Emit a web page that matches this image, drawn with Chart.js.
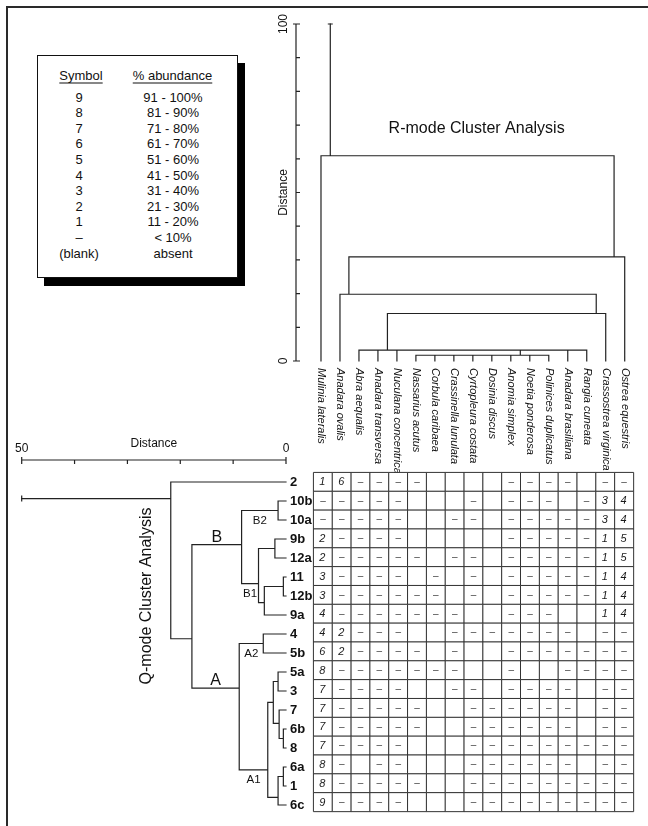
<!DOCTYPE html>
<html>
<head>
<meta charset="utf-8">
<title>R-mode and Q-mode cluster analysis</title>
<script src="https://cdn.jsdelivr.net/npm/chart.js@4.4.1/dist/chart.umd.min.js"></script>
<style>
  html, body { margin: 0; padding: 0; background: #fff; }
  #sheet { position: relative; width: 648px; height: 826px; overflow: hidden; background: #fff;
           font-family: "Liberation Sans", Arial, Helvetica, sans-serif; color: #111; }
  #sheet canvas { position: absolute; left: 0; top: 0; }
  .rule-top { position: absolute; left: 6px; top: 6px; width: 642px; height: 2px; background: #2a2a2a; }
  .rule-left { position: absolute; left: 6px; top: 6px; width: 2px; height: 820px; background: #2a2a2a; }
  #key { position: absolute; left: 37px; top: 55px; width: 201px; height: 223px; box-sizing: border-box;
         border: 1.5px solid #111; background: #fff; box-shadow: 7px 8px 0 #000; font-size: 13px; }
  #key div { position: absolute; white-space: nowrap; transform: translate(-50%, -50%); line-height: 15px; }
  #key .head { text-decoration: underline; text-underline-offset: 3px; text-decoration-thickness: 1px; }
</style>
</head>
<body>
<div id="sheet">
  <div class="rule-top"></div>
  <div class="rule-left"></div>
  <div id="key"></div>
  <canvas id="rmode" width="648" height="826"></canvas>
  <canvas id="qmode" width="648" height="826"></canvas>
  <canvas id="cells" width="648" height="826"></canvas>
</div>
<script>
// ---------------- data ----------------
const species = ["Mulinia lateralis", "Anadara ovalis", "Abra aequalis", "Anadara transversa",
  "Nuculana concentrica", "Nassarius acutus", "Corbula caribaea", "Crassinella lunulata",
  "Cyrtopleura costata", "Dosinia discus", "Anomia simplex", "Noetia ponderosa",
  "Polinices duplicatus", "Anadara brasiliana", "Rangia cuneata", "Crassostrea virginica",
  "Ostrea equestris"];

const sites = ["2", "10b", "10a", "9b", "12a", "11", "12b", "9a", "4", "5b",
  "5a", "3", "7", "6b", "8", "6a", "1", "6c"];

// abundance symbol per site (row) and species (column): digit, "-" under 10 %, "." absent
const cellCodes = [
  "16----....----.--",
  "-----...-.---.-34",
  "-----..--.-----34",
  "2----.....-----15",
  "2-----.--.-----15",
  "3----.-.-.-----14",
  "3------.-.-----14",
  "4-------..---..14",
  "42---..-------.--",
  "62----.-..-------",
  "8-------..-..----",
  "7----..--.----.--",
  "7-----..------.--",
  "7-----..------.--",
  "7----...---------",
  "8-.--...------.--",
  "8-----..---------",
  "9----...---------"
];

// R-mode (species) merges: members are species indices or "#k" for merge k
const rMembers = [[5, 6, 7, 8, 9, 10, 11, 12], [2, 3, 4, "#0", 13, 14], ["#1", 15], [1, "#2"], ["#3", 16], [0, "#4"]];
const rHeights = [1.7, 3.2, 14.1, 19.8, 30.9, 60.9];
const rJoinAt = [10.5, 3.5, 14.5, 1.47, 15.44, 0.49];   // position (species units) of each link
const rTop = 100;

// Q-mode (site) merges: members are site labels or "#k" for merge k
const qMembers = [["10b", "10a"], ["9b", "12a"], ["11", "12b"], ["#2", "9a"], ["#1", "#3"],
  ["#0", "#4"], ["4", "5b"], ["5a", "3"], ["6b", "8"], ["7", "#8"], ["#7", "#9"],
  ["6a", "1"], ["#11", "6c"], ["#10", "#12"], ["#6", "#13"], ["#5", "#14"], ["2", "#15"]];
const qHeights = [1.5, 2.1, 0.5, 4.1, 5.2, 8.4, 4.3, 1.5, 0.5, 1.3, 2.4, 0.5, 1.5, 3.45, 8.85, 17.8, 21.8];
const qJoinAt = [1.5, 3.5, 5.5, 6.35, 5.35, 3.3, 8.5, 10.5, 13.5, 12.7, 11.6, 15.5, 16.6, 15.15, 10.85, 8.25, 0.87];
const qTop = 50;

const groupNames = ["B2", "B1", "B", "A2", "A1", "A"];
const groupMerges = [0, 4, 5, 6, 13, 14];

const keySymbols = ["9", "8", "7", "6", "5", "4", "3", "2", "1", "–", "(blank)"];
const keyRanges = ["91 - 100%", "81 - 90%", "71 - 80%", "61 - 70%", "51 - 60%", "41 - 50%",
  "31 - 40%", "21 - 30%", "11 - 20%", "< 10%", "absent"];

// ---------------- key box ----------------
(function buildKey() {
  const key = document.getElementById('key');
  const add = (text, cx, cy, cls) => {
    const d = document.createElement('div');
    d.textContent = text;
    d.style.left = cx + 'px';
    d.style.top = cy + 'px';
    if (cls) d.className = cls;
    key.appendChild(d);
  };
  add("Symbol", 43, 18.5, 'head');
  add("% abundance", 134.5, 18.5, 'head');
  keySymbols.forEach((s, k) => add(s, 41, 40.5 + 15.6 * k));
  keyRanges.forEach((s, k) => add(s, 135, 40.5 + 15.6 * k));
})();

// ---------------- helpers ----------------
const FONT = '"Liberation Sans", Arial, Helvetica, sans-serif';
const INK = '#222';

// polyline points for a dendrogram; gaps (null) separate the pieces
function dendroSegments(members, heights, joinAt, leafPos, vertical) {
  const pts = [];
  const pt = (h, p) => vertical ? { x: p, y: h } : { x: h, y: p };
  const gap = () => pts.push({ x: null, y: null });
  const ref = m => (typeof m === 'string' && m[0] === '#')
    ? { h: heights[+m.slice(1)], p: joinAt[+m.slice(1)] }
    : { h: 0, p: leafPos(m) };
  members.forEach((kids, k) => {
    const H = heights[k];
    const cs = kids.map(ref);
    cs.forEach(c => { pts.push(pt(c.h, c.p), pt(H, c.p)); gap(); });
    const ps = cs.map(c => c.p);
    pts.push(pt(H, Math.min(...ps)), pt(H, Math.max(...ps)));
    gap();
  });
  return pts;
}

function lineSet(points) {
  return {
    data: points, showLine: true, spanGaps: false, pointRadius: 0, pointHoverRadius: 0,
    borderColor: INK, borderWidth: 1.2, borderCapStyle: 'square', clip: false
  };
}

const baseOptions = (padding, xs, ys) => ({
  responsive: false, animation: false, events: [],
  layout: { padding },
  scales: { x: Object.assign({ type: 'linear', display: false }, xs), y: Object.assign({ type: 'linear', display: false }, ys) },
  plugins: { legend: { display: false }, tooltip: { enabled: false }, title: { display: false } }
});

function rotatedText(ctx, text, x, y, angle, font, align) {
  ctx.save();
  ctx.translate(x, y);
  ctx.rotate(angle);
  ctx.font = font;
  ctx.textAlign = align || 'center';
  ctx.textBaseline = 'middle';
  ctx.fillText(text, 0, 0);
  ctx.restore();
}

// ---------------- R-mode dendrogram ----------------
const rLast = rMembers.length - 1;
const rPoints = dendroSegments(rMembers, rHeights, rJoinAt, m => m, true);
rPoints.push({ x: rJoinAt[rLast], y: rHeights[rLast] }, { x: rJoinAt[rLast], y: rTop });

const rAxis = {
  id: 'rAxis',
  afterDraw(chart) {
    const ctx = chart.ctx, xs = chart.scales.x, ys = chart.scales.y, a = chart.chartArea;
    const ax = a.left - 15.5;
    ctx.save();
    ctx.strokeStyle = INK; ctx.fillStyle = '#111'; ctx.lineWidth = 1.2;
    ctx.beginPath();
    ctx.moveTo(ax, ys.getPixelForValue(0)); ctx.lineTo(ax, ys.getPixelForValue(100));
    for (let v = 0; v <= 100; v += 10) {
      const py = ys.getPixelForValue(v);
      ctx.moveTo(v % 100 === 0 ? ax - 3 : ax, py); ctx.lineTo(ax + 4, py);
    }
    // cap on the stem top
    const sx = xs.getPixelForValue(rJoinAt[rLast]), sy = ys.getPixelForValue(rTop);
    ctx.moveTo(sx - 2.5, sy); ctx.lineTo(sx + 2.5, sy);
    ctx.stroke();
    rotatedText(ctx, "100", ax - 12, ys.getPixelForValue(100), -Math.PI / 2, '12px ' + FONT);
    rotatedText(ctx, "0", ax - 12, ys.getPixelForValue(0), -Math.PI / 2, '12px ' + FONT);
    rotatedText(ctx, "Distance", ax - 12, ys.getPixelForValue(50), -Math.PI / 2, '12px ' + FONT);
    ctx.font = '16px ' + FONT; ctx.textAlign = 'center'; ctx.textBaseline = 'middle';
    ctx.fillText("R-mode Cluster Analysis", xs.getPixelForValue(8.2), ys.getPixelForValue(69));
    species.forEach((s, i) => {
      rotatedText(ctx, s, xs.getPixelForValue(i), ys.getPixelForValue(0) + 7, Math.PI / 2, 'italic 11px ' + FONT, 'left');
    });
    ctx.restore();
  }
};

new Chart(document.getElementById('rmode'), {
  type: 'scatter',
  data: { datasets: [lineSet(rPoints)] },
  options: baseOptions({ left: 311.5, right: 13.8, top: 24, bottom: 826 - 361 },
    { min: -0.5, max: species.length - 0.5 }, { min: 0, max: rTop }),
  plugins: [rAxis]
});

// ---------------- Q-mode dendrogram ----------------
const qLast = qMembers.length - 1;
const qPoints = dendroSegments(qMembers, qHeights, qJoinAt, m => sites.indexOf(m), false);
qPoints.push({ x: qHeights[qLast], y: qJoinAt[qLast] }, { x: qTop, y: qJoinAt[qLast] });

const qAxis = {
  id: 'qAxis',
  afterDraw(chart) {
    const ctx = chart.ctx, xs = chart.scales.x, ys = chart.scales.y, a = chart.chartArea;
    const ay = a.top - 12.5;
    ctx.save();
    ctx.strokeStyle = INK; ctx.fillStyle = '#111'; ctx.lineWidth = 1.2;
    ctx.beginPath();
    ctx.moveTo(xs.getPixelForValue(qTop), ay); ctx.lineTo(xs.getPixelForValue(0), ay);
    for (let v = 0; v <= qTop; v += 10) {
      const px = xs.getPixelForValue(v);
      ctx.moveTo(px, v % qTop === 0 ? ay - 3 : ay); ctx.lineTo(px, ay + 4);
    }
    // cap on the stem end
    const sx = xs.getPixelForValue(qTop), sy = ys.getPixelForValue(qJoinAt[qLast]);
    ctx.moveTo(sx, sy - 3); ctx.lineTo(sx, sy + 3);
    ctx.stroke();

    ctx.font = '12px ' + FONT; ctx.textAlign = 'center'; ctx.textBaseline = 'middle';
    ctx.fillText("50", xs.getPixelForValue(qTop), ay - 11);
    ctx.fillText("0", xs.getPixelForValue(0), ay - 11);
    ctx.fillText("Distance", xs.getPixelForValue(qTop / 2), ay - 16);

    // site labels
    ctx.font = 'bold 13px ' + FONT; ctx.textAlign = 'left';
    sites.forEach((s, i) => ctx.fillText(s, xs.getPixelForValue(0) + 4, ys.getPixelForValue(i) + 0.5));

    // group names, centred on the link that leaves each group
    const parentOf = k => qMembers.findIndex(kids => kids.includes('#' + k));
    groupNames.forEach((g, j) => {
      const k = groupMerges[j];
      const mid = (qHeights[k] + qHeights[parentOf(k)]) / 2;
      const px = xs.getPixelForValue(mid), py = ys.getPixelForValue(qJoinAt[k]);
      if (g.length === 1) {
        ctx.font = '16px ' + FONT; ctx.textBaseline = 'alphabetic'; ctx.textAlign = 'center';
        ctx.fillText(g, px, py - 3);
      } else {
        ctx.font = '11.5px ' + FONT; ctx.textBaseline = 'middle'; ctx.textAlign = 'center';
        ctx.fillText(g, px, py + 10);
      }
    });
    rotatedText(ctx, "Q-mode Cluster Analysis", xs.getPixelForValue(26.4), ys.getPixelForValue(6),
      -Math.PI / 2, '16px ' + FONT);
    ctx.restore();
  }
};

new Chart(document.getElementById('qmode'), {
  type: 'scatter',
  data: { datasets: [lineSet(qPoints)] },
  options: baseOptions({ left: 21.7, right: 648 - 286, top: 472.5, bottom: 826 - 814.5 },
    { min: 0, max: qTop, reverse: true }, { min: -0.5, max: sites.length - 0.5, reverse: true })
  ,
  plugins: [qAxis]
});

// ---------------- abundance table ----------------
const cellPoints = [];
sites.forEach((s, r) => {
  for (let c = 0; c < species.length; c++) cellPoints.push({ x: c, y: r, code: cellCodes[r][c] });
});

const cellText = {
  id: 'cellText',
  afterDatasetsDraw(chart) {
    const ctx = chart.ctx, xs = chart.scales.x, ys = chart.scales.y;
    ctx.save();
    ctx.textAlign = 'center'; ctx.textBaseline = 'middle';
    cellPoints.forEach(p => {
      const px = xs.getPixelForValue(p.x), py = ys.getPixelForValue(p.y);
      if (p.code === '-') {
        ctx.font = '10px ' + FONT; ctx.fillStyle = '#444';
        ctx.fillText('–', px, py);
      } else if (p.code !== '.') {
        ctx.font = 'italic 11px ' + FONT; ctx.fillStyle = '#1a1a1a';
        ctx.fillText(p.code, px - 0.5, py + 0.5);
      }
    });
    ctx.restore();
  }
};

new Chart(document.getElementById('cells'), {
  type: 'scatter',
  data: {
    datasets: [{
      data: cellPoints, pointStyle: 'rect', pointRadius: 19 / Math.SQRT2, pointHoverRadius: 19 / Math.SQRT2,
      pointBackgroundColor: '#fff', pointBorderColor: '#333', pointBorderWidth: 1, clip: false
    }]
  },
  options: baseOptions({ left: 313.5, right: 648 - 636.5, top: 472.5, bottom: 826 - 814.5 },
    { min: -0.5, max: species.length - 0.5 }, { min: -0.5, max: sites.length - 0.5, reverse: true }),
  plugins: [cellText]
});
</script>
</body>
</html>
